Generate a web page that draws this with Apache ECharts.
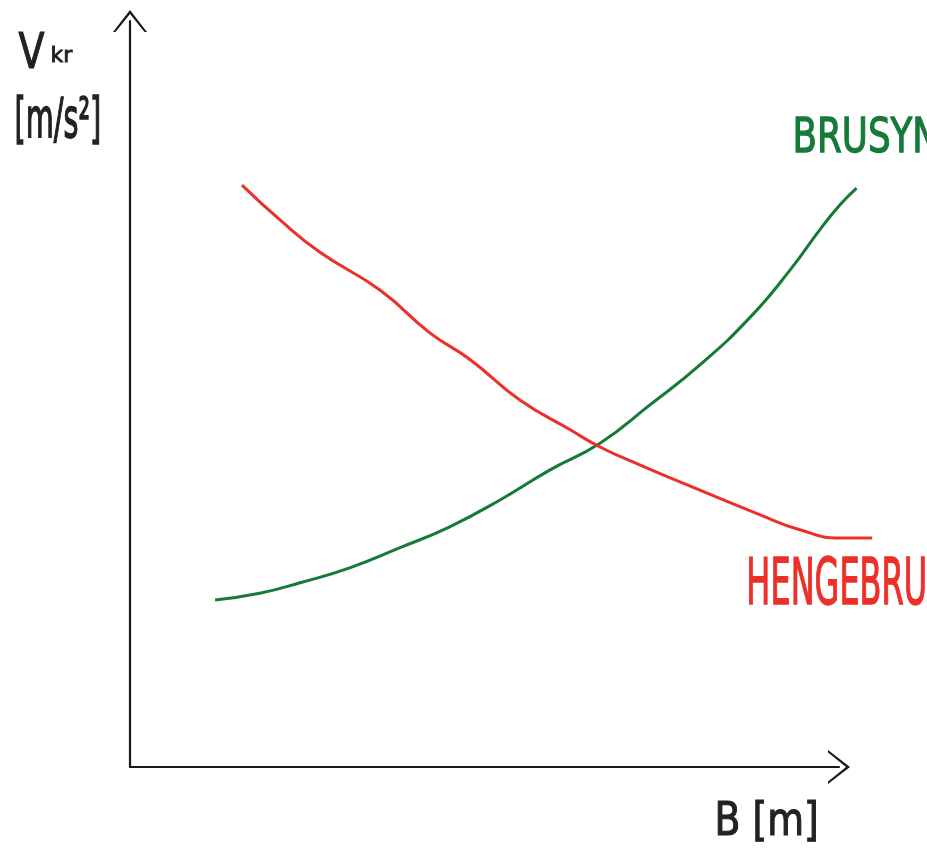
<!DOCTYPE html>
<html><head><meta charset="utf-8">
<script src="https://cdn.jsdelivr.net/npm/echarts@6/dist/echarts.min.js"></script>
<style>html,body{margin:0;padding:0;background:#fff}#c{width:927px;height:848px}</style>
</head><body><div id="c"></div>
<script>
// Data (chart units, axes 0..100, no ticks on the sketch)
var hengebruX = [15.8, 21.2, 26.8, 35.3, 42.3, 48.0, 55.0, 62.1, 66.3, 71.9, 80.4, 88.9, 94.5, 100.1, 104.7];
var hengebruY = [78.0, 73.3, 69.0, 63.9, 58.2, 54.6, 49.2, 45.2, 42.9, 40.5, 37.1, 33.8, 31.8, 30.7, 30.7];
var brusynX = [12.0, 18.3, 24.0, 31.0, 38.1, 45.1, 52.2, 59.2, 66.3, 73.3, 80.4, 87.4, 93.1, 97.3, 100.1, 102.5];
var brusynY = [22.4, 23.3, 24.7, 26.7, 29.4, 32.2, 35.8, 39.8, 43.4, 48.5, 53.9, 60.2, 66.6, 72.0, 75.3, 77.6];
var seriesNames = ['BRUSYN', 'HENGEBRU'];
var yTitle = 'V', ySub = 'kr', yUnit = '[m/s²]';
var xTitle = 'B [m]';

function pairs(xs, ys){ return xs.map(function(x,i){ return [x, ys[i]]; }); }

var chevron = 'path://M0,22 L17,0 L34,22 L31.5,22 L17,4 L2.5,22 Z';
var visibleAxis = {
  type: 'value', min: 0, max: 100, gridIndex: 0,
  axisLine: { show: true, lineStyle: { color: '#1a1a1a', width: 2.2 }, symbol: ['none', chevron], symbolSize: [34, 22] },
  axisTick: { show: false }, axisLabel: { show: false }, splitLine: { show: false }
};
var hiddenBase = { type: 'value', min: 0, gridIndex: 1, show: false, splitLine: { show: false } };
var font = '"DejaVu Sans", sans-serif';
function txt(left, top, text, size, color, sx, sy){
  return { type: 'text', left: left, top: top, scaleX: sx || 1, scaleY: sy || 1,
    style: { text: text, font: size + 'px ' + font, fill: color, stroke: color, lineWidth: 0.9 } };
}
var chart = echarts.init(document.getElementById('c'));
chart.setOption({
  backgroundColor: '#ffffff',
  animation: false,
  grid: [
    { left: 130, right: 88, top: 21, bottom: 81 },
    { left: 130, right: 47, top: 21, bottom: 81 }
  ],
  xAxis: [ visibleAxis, Object.assign({}, hiddenBase, { max: 105.8 }) ],
  yAxis: [ visibleAxis, Object.assign({}, hiddenBase, { max: 100 }) ],
  series: [
    { name: seriesNames[0], type: 'line', xAxisIndex: 1, yAxisIndex: 1, smooth: true, showSymbol: false,
      lineStyle: { color: '#157a38', width: 3 }, data: pairs(brusynX, brusynY) },
    { name: seriesNames[1], type: 'line', xAxisIndex: 1, yAxisIndex: 1, smooth: true, showSymbol: false,
      lineStyle: { color: '#ec3029', width: 3 }, data: pairs(hengebruX, hengebruY) }
  ],
  graphic: [
    txt(18, 30, yTitle, 38, '#222', 1, 1.3),
    txt(50, 45, ySub, 22, '#222', 1, 1),
    txt(14, 94, yUnit, 32, '#222', 0.9, 1.75),
    txt(714, 799, xTitle, 36, '#222', 1.05, 1.3),
    txt(792, 115, seriesNames[0], 34, '#157a38', 1.05, 1.4),
    txt(746, 555, seriesNames[1], 40, '#ec3029', 0.8, 1.6)
  ]
});
</script></body></html>
